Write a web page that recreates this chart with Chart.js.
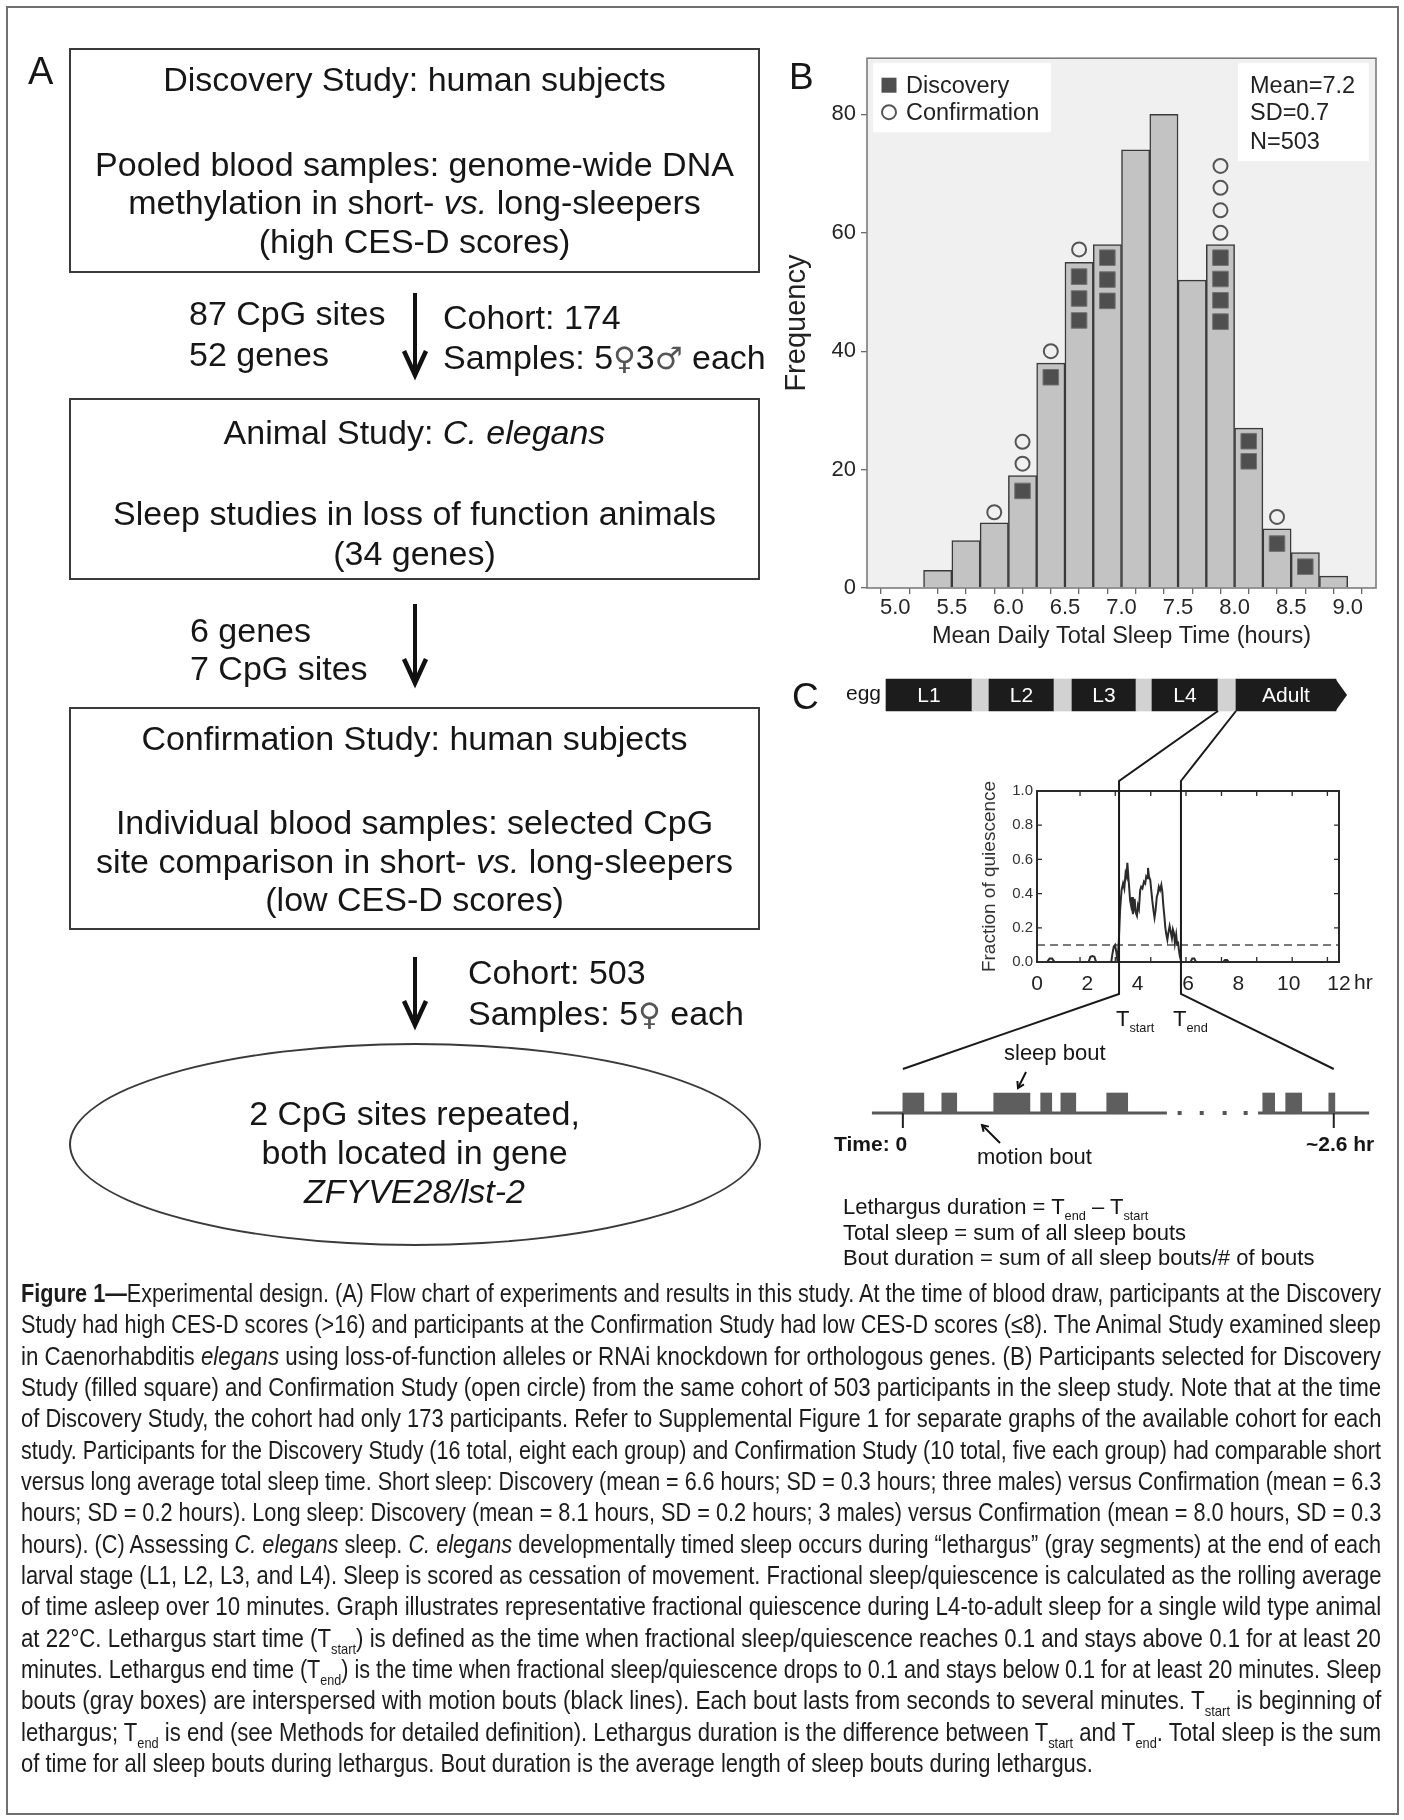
<!DOCTYPE html>
<html>
<head>
<meta charset="utf-8">
<script src="https://cdn.jsdelivr.net/npm/chart.js@4.4.1/dist/chart.umd.min.js"></script>
<style>
  html, body { margin:0; padding:0; background:#ffffff; }
  #page { position:relative; width:1404px; height:1820px; overflow:hidden; background:#fff;
          font-family:"Liberation Sans", Arial, Helvetica, sans-serif; color:#161616; }
  #frame { position:absolute; left:6px; top:6px; width:1393px; height:1809px; border:2px solid #707070; box-sizing:border-box; }
  .box { position:absolute; border:2px solid #3a3a3a; box-sizing:border-box; }
  .ell { position:absolute; border:2px solid #3a3a3a; box-sizing:border-box; border-radius:50%; }
  .t { position:absolute; white-space:nowrap; height:40px; line-height:40px; z-index:4; }
  .c { text-align:center; left:69px; width:691px; }
  .f34 { font-size:34px; }
  .sym { font-family:"DejaVu Sans", "Noto Sans", sans-serif; font-size:31px; font-weight:normal; color:#555; }
  canvas { position:absolute; z-index:2; }
  .cap { position:absolute; left:21px; white-space:nowrap; height:32px; line-height:32px; font-size:25px; transform-origin:0 50%; color:#1c1c1c; z-index:4; }
  sub { font-size:0.58em; vertical-align:-0.45em; line-height:0; }
  #ov { position:absolute; left:0; top:0; z-index:3; }
</style>
</head>
<body>
<div id="page">
  <div id="frame"></div>

  <!-- Panel A -->
  <div class="t" style="left:28px;top:51px;font-size:38px;">A</div>
  <div class="box" style="left:69px;top:48px;width:691px;height:225px;"></div>
  <div class="t c f34" style="top:59px;">Discovery Study: human subjects</div>
  <div class="t c f34" style="top:144px;">Pooled blood samples: genome-wide DNA</div>
  <div class="t c f34" style="top:182px;">methylation in short- <i>vs.</i> long-sleepers</div>
  <div class="t c f34" style="top:221px;">(high CES-D scores)</div>

  <div class="t f34" style="left:189px;top:293px;">87 CpG sites</div>
  <div class="t f34" style="left:189px;top:334px;">52 genes</div>
  <div class="t f34" style="left:443px;top:297px;">Cohort: 174</div>
  <div class="t f34" style="left:443px;top:337px;">Samples: 5<span class="sym">♀</span>3<span class="sym">♂</span> each</div>

  <div class="box" style="left:69px;top:398px;width:691px;height:182px;"></div>
  <div class="t c f34" style="top:412px;">Animal Study: <i>C. elegans</i></div>
  <div class="t c f34" style="top:493px;">Sleep studies in loss of function animals</div>
  <div class="t c f34" style="top:533px;">(34 genes)</div>

  <div class="t f34" style="left:190px;top:610px;">6 genes</div>
  <div class="t f34" style="left:190px;top:648px;">7 CpG sites</div>

  <div class="box" style="left:69px;top:707px;width:691px;height:223px;"></div>
  <div class="t c f34" style="top:718px;">Confirmation Study: human subjects</div>
  <div class="t c f34" style="top:802px;">Individual blood samples: selected CpG</div>
  <div class="t c f34" style="top:841px;">site comparison in short- <i>vs.</i> long-sleepers</div>
  <div class="t c f34" style="top:879px;">(low CES-D scores)</div>

  <div class="t f34" style="left:468px;top:952px;">Cohort: 503</div>
  <div class="t f34" style="left:468px;top:993px;">Samples: 5<span class="sym">♀</span> each</div>

  <div class="ell" style="left:69px;top:1043px;width:692px;height:203px;"></div>
  <div class="t c f34" style="top:1093px;">2 CpG sites repeated,</div>
  <div class="t c f34" style="top:1132px;">both located in gene</div>
  <div class="t c f34" style="top:1171px;"><i>ZFYVE28/lst-2</i></div>

  <!-- Panel B -->
  <div class="t" style="left:789px;top:57px;font-size:37px;">B</div>
  <canvas id="cB" width="625" height="620" style="left:770px;top:40px;"></canvas>

  <!-- Panel C -->
  <div class="t" style="left:792px;top:677px;font-size:37px;">C</div>
  <div class="t" style="left:846px;top:673px;font-size:21px;">egg</div>
  <canvas id="cT" width="470" height="50" style="left:880px;top:670px;"></canvas>
  <canvas id="cQ" width="430" height="250" style="left:960px;top:760px;"></canvas>
  <canvas id="cS" width="569" height="80" style="left:820px;top:1063px;"></canvas>

  <div class="t" style="left:1116px;top:999px;font-size:22px;">T<sub>start</sub></div>
  <div class="t" style="left:1173px;top:999px;font-size:22px;">T<sub>end</sub></div>
  <div class="t" style="left:1004px;top:1033px;font-size:22px;">sleep bout</div>
  <div class="t" style="left:977px;top:1137px;font-size:22px;">motion bout</div>
  <div class="t" style="left:834px;top:1124px;font-size:21px;font-weight:bold;">Time: 0</div>
  <div class="t" style="left:1306px;top:1124px;font-size:21px;font-weight:bold;">~2.6 hr</div>
  <div class="t" style="left:843px;top:1187px;font-size:22px;">Lethargus duration = T<sub>end</sub> – T<sub>start</sub></div>
  <div class="t" style="left:843px;top:1213px;font-size:22px;">Total sleep = sum of all sleep bouts</div>
  <div class="t" style="left:843px;top:1238px;font-size:22px;">Bout duration = sum of all sleep bouts/# of bouts</div>

  <!-- Caption -->
  <div class="cap" style="top:1277px;"><b>Figure 1—</b>Experimental design. (A) Flow chart of experiments and results in this study. At the time of blood draw, participants at the Discovery</div>
  <div class="cap" style="top:1308px;">Study had high CES-D scores (&gt;16) and participants at the Confirmation Study had low CES-D scores (≤8). The Animal Study examined sleep</div>
  <div class="cap" style="top:1340px;">in Caenorhabditis <i>elegans</i> using loss-of-function alleles or RNAi knockdown for orthologous genes. (B) Participants selected for Discovery</div>
  <div class="cap" style="top:1371px;">Study (filled square) and Confirmation Study (open circle) from the same cohort of 503 participants in the sleep study. Note that at the time</div>
  <div class="cap" style="top:1402px;">of Discovery Study, the cohort had only 173 participants. Refer to Supplemental Figure 1 for separate graphs of the available cohort for each</div>
  <div class="cap" style="top:1434px;">study. Participants for the Discovery Study (16 total, eight each group) and Confirmation Study (10 total, five each group) had comparable short</div>
  <div class="cap" style="top:1465px;">versus long average total sleep time. Short sleep: Discovery (mean = 6.6 hours; SD = 0.3 hours; three males) versus Confirmation (mean = 6.3</div>
  <div class="cap" style="top:1496px;">hours; SD = 0.2 hours). Long sleep: Discovery (mean = 8.1 hours, SD = 0.2 hours; 3 males) versus Confirmation (mean = 8.0 hours, SD = 0.3</div>
  <div class="cap" style="top:1528px;">hours). (C) Assessing <i>C. elegans</i> sleep. <i>C. elegans</i> developmentally timed sleep occurs during “lethargus” (gray segments) at the end of each</div>
  <div class="cap" style="top:1559px;">larval stage (L1, L2, L3, and L4). Sleep is scored as cessation of movement. Fractional sleep/quiescence is calculated as the rolling average</div>
  <div class="cap" style="top:1590px;">of time asleep over 10 minutes. Graph illustrates representative fractional quiescence during L4-to-adult sleep for a single wild type animal</div>
  <div class="cap" style="top:1622px;">at 22°C. Lethargus start time (T<sub>start</sub>) is defined as the time when fractional sleep/quiescence reaches 0.1 and stays above 0.1 for at least 20</div>
  <div class="cap" style="top:1653px;">minutes. Lethargus end time (T<sub>end</sub>) is the time when fractional sleep/quiescence drops to 0.1 and stays below 0.1 for at least 20 minutes. Sleep</div>
  <div class="cap" style="top:1684px;">bouts (gray boxes) are interspersed with motion bouts (black lines). Each bout lasts from seconds to several minutes. T<sub>start</sub> is beginning of</div>
  <div class="cap" style="top:1716px;">lethargus; T<sub>end</sub> is end (see Methods for detailed definition). Lethargus duration is the difference between T<sub>start</sub> and T<sub>end</sub>. Total sleep is the sum</div>
  <div class="cap" style="top:1747px;" data-last="1">of time for all sleep bouts during lethargus. Bout duration is the average length of sleep bouts during lethargus.</div>

  <svg id="ov" width="1404" height="1820" xmlns="http://www.w3.org/2000/svg"></svg>
</div>

<script>
// ---------------- DATA ----------------
// Panel B: histogram of mean daily total sleep time (bins 0.25 h wide)
const binCenters   = [5.375, 5.625, 5.875, 6.125, 6.375, 6.625, 6.875, 7.125, 7.375, 7.625, 7.875, 8.125, 8.375, 8.625, 8.875];
const frequencies  = [3, 8, 11, 19, 38, 55, 58, 74, 80, 52, 58, 27, 10, 6, 2];
const discoveryX   = [6.125, 6.375, 6.625, 6.625, 6.625, 6.875, 6.875, 6.875, 7.875, 7.875, 7.875, 7.875, 8.125, 8.125, 8.375, 8.625];
const discoveryY   = [16.4, 35.6, 52.6, 48.9, 45.2, 55.8, 52.1, 48.5, 55.8, 52.2, 48.6, 45.0, 24.8, 21.4, 7.5, 3.6];
const confirmationX = [5.875, 6.125, 6.125, 6.375, 6.625, 7.875, 7.875, 7.875, 7.875, 8.375];
const confirmationY = [12.8, 24.7, 21.0, 40.0, 57.2, 71.3, 67.6, 63.8, 60.0, 12.0];
const legendLabels = ['Discovery', 'Confirmation'];
const statsLines   = ['Mean=7.2', 'SD=0.7', 'N=503'];
const xTitleB = 'Mean Daily Total Sleep Time (hours)';
const yTitleB = 'Frequency';

// Panel C: developmental timeline (schematic units)
const stageNames   = ['L1', '', 'L2', '', 'L3', '', 'L4', '', 'Adult'];
const stageStarts  = [0, 86, 103, 168, 186, 250, 266, 332, 350];
const stageEnds    = [86, 103, 168, 186, 250, 266, 332, 350, 450];
const stageIsLethargus = [false, true, false, true, false, true, false, true, false];
const arrowTip = 461;
const zoomedStageIndex = 7;

// Panel C: fraction of quiescence vs time (hours)
const quiesHours  = [0, 0.4, 0.5, 0.6, 0.7, 2.05, 2.12, 2.2, 2.28, 2.35, 2.95, 3.0, 3.05, 3.1, 3.15, 3.2,
  3.25, 3.3, 3.36, 3.42, 3.47, 3.52, 3.56, 3.59, 3.62, 3.66, 3.7, 3.74, 3.78, 3.81, 3.85, 3.88, 3.92, 3.97,
  4.01, 4.05, 4.1, 4.14, 4.19, 4.25, 4.3, 4.34, 4.38, 4.41, 4.45, 4.5, 4.54, 4.58, 4.63, 4.67, 4.71, 4.76,
  4.8, 4.84, 4.89, 4.94, 4.98, 5.02, 5.06, 5.1, 5.14, 5.18, 5.22, 5.27, 5.31, 5.36, 5.4, 5.44, 5.48, 5.53,
  5.57, 5.6, 5.64, 5.68, 5.74, 6.1, 6.17, 6.25, 6.32, 7.4, 7.47, 7.55, 7.62, 12];
const quiesValues = [0, 0, 0.02, 0.02, 0, 0, 0.03, 0.035, 0.03, 0, 0, 0.05, 0.09, 0.1, 0.06, 0.0,
  0.12, 0.3, 0.42, 0.46, 0.43, 0.52, 0.5, 0.58, 0.52, 0.44, 0.36, 0.33, 0.38, 0.28, 0.32, 0.37, 0.29, 0.27,
  0.33, 0.31, 0.42, 0.44, 0.43, 0.47, 0.46, 0.5, 0.49, 0.55, 0.5, 0.48, 0.42, 0.36, 0.3, 0.26, 0.3, 0.38,
  0.4, 0.44, 0.42, 0.45, 0.41, 0.33, 0.27, 0.2, 0.16, 0.13, 0.17, 0.21, 0.18, 0.14, 0.19, 0.17, 0.11, 0.16,
  0.1, 0.12, 0.07, 0.03, 0, 0, 0.02, 0.02, 0, 0, 0.012, 0.012, 0, 0];
const threshold = 0.1;
const tStartHr = 3.26;
const tEndHr = 5.72;
const quiesFrameTickHours = [1.71, 3.11, 4.52, 5.92, 7.33, 8.73, 10.14, 11.54];
const quiesYTicks = [0.2, 0.4, 0.6, 0.8];

// Panel C: sleep bouts during lethargus (minutes from T_start)
const boutStartMin = [0, 14.1, 32.9, 49.9, 57.2, 73.8, 130.3, 138.6, 154.2];
const boutEndMin   = [7.6, 19.5, 46.0, 53.9, 62.6, 81.4, 134.6, 144.4, 156.4];
const motionSegStart = [-11.2, 128.6];
const motionSegEnd   = [95.6, 168.8];
const gapDotsMin   = [100.2, 108.2, 116.5, 124.1];
const boutTickMin  = [0, 156];

// ---------------- CHARTS ----------------
const FONT = '"Liberation Sans", Arial, Helvetica, sans-serif';
Chart.defaults.font.family = FONT;
Chart.defaults.color = '#222';
Chart.defaults.animation = false;
Chart.defaults.responsive = false;
Chart.defaults.maintainAspectRatio = false;
Chart.defaults.events = [];
Chart.defaults.plugins.legend.display = false;
Chart.defaults.plugins.tooltip.enabled = false;

const bPlugin = {
  id: 'bPlugin',
  beforeDraw(c) {
    const {ctx, chartArea: a} = c;
    ctx.save();
    ctx.fillStyle = '#f0f0f0';
    ctx.fillRect(a.left, a.top, a.right - a.left, a.bottom - a.top);
    ctx.restore();
  },
  afterDraw(c) {
    const {ctx, chartArea: a} = c;
    const dsD = c.data.datasets[0], dsC = c.data.datasets[1];
    ctx.save();
    ctx.strokeStyle = '#7c7c7c';
    ctx.lineWidth = 1.6;
    ctx.strokeRect(a.left, a.top, a.right - a.left, a.bottom - a.top);
    // legend
    ctx.fillStyle = '#ffffff';
    ctx.fillRect(a.left + 6, a.top + 5, 178, 69);
    ctx.fillStyle = dsD.backgroundColor;
    ctx.fillRect(a.left + 22 - 7.5, a.top + 27 - 7.5, 15, 15);
    ctx.beginPath();
    ctx.arc(a.left + 22, a.top + 54, 7, 0, Math.PI * 2);
    ctx.strokeStyle = dsC.borderColor; ctx.lineWidth = 2; ctx.stroke();
    ctx.font = '23.5px ' + FONT;
    ctx.fillStyle = '#222';
    ctx.textAlign = 'left'; ctx.textBaseline = 'middle';
    ctx.fillText(legendLabels[0], a.left + 39, a.top + 28);
    ctx.fillText(legendLabels[1], a.left + 39, a.top + 55);
    // stats box
    ctx.fillStyle = '#ffffff';
    ctx.fillRect(a.right - 138, a.top + 5, 131, 98);
    ctx.fillStyle = '#222';
    const off = [28, 55, 84];
    statsLines.forEach((s, i) => ctx.fillText(s, a.right - 126, a.top + off[i]));
    ctx.restore();
  }
};

const chartB = new Chart(document.getElementById('cB'), {
  type: 'bar',
  data: { datasets: [
    { type: 'scatter', label: legendLabels[0], data: discoveryX.map((x, i) => ({x: x, y: discoveryY[i]})),
      pointStyle: 'rect', pointRadius: 11, backgroundColor: '#4f4f4f', borderColor: '#727272', borderWidth: 1, order: 0 },
    { type: 'scatter', label: legendLabels[1], data: confirmationX.map((x, i) => ({x: x, y: confirmationY[i]})),
      pointStyle: 'circle', pointRadius: 7, backgroundColor: 'rgba(0,0,0,0)', borderColor: '#555555', borderWidth: 2, order: 0 },
    { type: 'bar', label: 'Frequency', data: binCenters.map((x, i) => ({x: x, y: frequencies[i]})),
      backgroundColor: '#c3c3c3', borderColor: '#3a3a3a', borderWidth: 1.5, barPercentage: 1, categoryPercentage: 1, order: 1 }
  ]},
  options: {
    layout: { padding: { top: 18, right: 19, left: 0, bottom: 0 } },
    scales: {
      x: { type: 'linear', position: 'bottom', min: 4.75, max: 9.25, offset: false,
           ticks: { stepSize: 0.25, autoSkip: false, maxRotation: 0, minRotation: 0, padding: 1, color: '#262626', font: { size: 22 },
                    callback: (v) => (Math.abs(v * 2 - Math.round(v * 2)) < 1e-6 ? Number(v).toFixed(1) : '') },
           grid: { drawOnChartArea: false, drawTicks: true, tickLength: 6, color: '#6a6a6a', lineWidth: 1.3 },
           border: { display: false },
           title: { display: true, text: xTitleB, color: '#222', font: { size: 23.5 }, padding: { top: 0, bottom: 9 } },
           afterFit: (s) => { s.height = 72; } },
      y: { type: 'linear', min: 0, max: 89.5,
           ticks: { stepSize: 20, includeBounds: false, padding: 5, color: '#262626', font: { size: 22 } },
           grid: { drawOnChartArea: false, drawTicks: true, tickLength: 6, color: '#6a6a6a', lineWidth: 1.3 },
           border: { display: false },
           title: { display: true, text: yTitleB, color: '#222', font: { size: 29 }, padding: { top: 9.6, bottom: 0 } },
           afterFit: (s) => { s.width = 97; } }
    }
  },
  plugins: [bPlugin]
});

const tPlugin = {
  id: 'tPlugin',
  afterDatasetsDraw(c) {
    const {ctx} = c;
    const meta = c.getDatasetMeta(0);
    const xs = c.scales.x;
    ctx.save();
    const last = meta.data[meta.data.length - 1];
    const half = last.height / 2;
    const xEnd = xs.getPixelForValue(stageEnds[stageEnds.length - 1]);
    const xTip = xs.getPixelForValue(arrowTip);
    ctx.fillStyle = '#1c1c1c';
    ctx.beginPath();
    ctx.moveTo(xEnd - 0.5, last.y - half);
    ctx.lineTo(xTip, last.y);
    ctx.lineTo(xEnd - 0.5, last.y + half);
    ctx.closePath(); ctx.fill();
    ctx.fillStyle = '#ffffff';
    ctx.font = '21px ' + FONT;
    ctx.textAlign = 'center'; ctx.textBaseline = 'middle';
    meta.data.forEach((el, i) => {
      if (stageNames[i]) ctx.fillText(stageNames[i], (el.x + el.base) / 2, el.y + 1);
    });
    ctx.restore();
  }
};

const chartT = new Chart(document.getElementById('cT'), {
  type: 'bar',
  data: { labels: ['stages'], datasets: [{
    data: stageStarts.map((s, i) => ({x: [s, stageEnds[i]], y: 'stages'})),
    backgroundColor: stageIsLethargus.map(l => l ? '#d2d2d2' : '#1c1c1c'),
    borderWidth: 0, barThickness: 32 }] },
  options: { indexAxis: 'y', layout: { padding: 0 },
    scales: { x: { type: 'linear', min: -6, max: 464, display: false }, y: { type: 'category', display: false } } },
  plugins: [tPlugin]
});

const qPlugin = {
  id: 'qPlugin',
  afterDraw(c) {
    const {ctx, chartArea: a} = c;
    const xs = c.scales.x, ys = c.scales.y;
    ctx.save();
    ctx.strokeStyle = '#2a2a2a';
    ctx.lineWidth = 2;
    ctx.strokeRect(a.left, a.top, a.right - a.left, a.bottom - a.top);
    ctx.lineWidth = 1.3;
    ctx.beginPath();
    quiesFrameTickHours.forEach(h => {
      const px = xs.getPixelForValue(h);
      ctx.moveTo(px, a.top); ctx.lineTo(px, a.top + 5);
      ctx.moveTo(px, a.bottom); ctx.lineTo(px, a.bottom - 5);
    });
    quiesYTicks.forEach(v => {
      const py = ys.getPixelForValue(v);
      ctx.moveTo(a.left, py); ctx.lineTo(a.left + 5, py);
      ctx.moveTo(a.right, py); ctx.lineTo(a.right - 5, py);
    });
    ctx.stroke();
    ctx.fillStyle = '#222';
    ctx.font = '21px ' + FONT;
    ctx.textAlign = 'left'; ctx.textBaseline = 'middle';
    ctx.fillText('hr', xs.getPixelForValue(12) + 15, a.bottom + 21);
    ctx.restore();
  }
};

const chartQ = new Chart(document.getElementById('cQ'), {
  type: 'line',
  data: { datasets: [
    { data: quiesHours.map((x, i) => ({x: x, y: quiesValues[i]})), borderColor: '#2b2b2b', borderWidth: 2,
      pointRadius: 0, tension: 0, fill: false, order: 0, clip: 3 },
    { data: [{x: 0, y: threshold}, {x: 12, y: threshold}], borderColor: '#7a7a7a', borderWidth: 2,
      borderDash: [8, 5], pointRadius: 0, fill: false, order: 1 }
  ]},
  options: {
    layout: { padding: { top: 31, right: 51, left: 0, bottom: 0 } },
    scales: {
      x: { type: 'linear', min: 0, max: 12, ticks: { stepSize: 2, padding: 10, color: '#222', font: { size: 21 }, maxRotation: 0, autoSkip: false },
           grid: { display: false, drawTicks: false }, border: { display: false }, afterFit: (s) => { s.height = 48; } },
      y: { type: 'linear', min: 0, max: 1, ticks: { stepSize: 0.2, padding: 4, color: '#333', font: { size: 15 }, callback: (v) => Number(v).toFixed(1) },
           grid: { display: false, drawTicks: false }, border: { display: false },
           title: { display: true, text: 'Fraction of quiescence', color: '#333', font: { size: 19 }, padding: { top: 18.6, bottom: 0 } },
           afterFit: (s) => { s.width = 77; } }
    }
  },
  plugins: [qPlugin]
});

const sPlugin = {
  id: 'sPlugin',
  beforeDatasetsDraw(c) {
    const {ctx} = c;
    const xs = c.scales.x;
    const el = c.getDatasetMeta(0).data[0];
    const baseY = el.y + el.height / 2;
    ctx.save();
    ctx.strokeStyle = '#585858';
    ctx.lineWidth = 3;
    ctx.beginPath();
    motionSegStart.forEach((s, i) => {
      ctx.moveTo(xs.getPixelForValue(s), baseY);
      ctx.lineTo(xs.getPixelForValue(motionSegEnd[i]), baseY);
    });
    ctx.stroke();
    ctx.fillStyle = '#555';
    gapDotsMin.forEach(m => { const px = xs.getPixelForValue(m); ctx.fillRect(px - 2, baseY - 2, 4, 4); });
    ctx.strokeStyle = '#222';
    ctx.lineWidth = 2;
    ctx.beginPath();
    boutTickMin.forEach(m => { const px = xs.getPixelForValue(m); ctx.moveTo(px, baseY); ctx.lineTo(px, baseY + 15); });
    ctx.stroke();
    ctx.restore();
  }
};

const chartS = new Chart(document.getElementById('cS'), {
  type: 'bar',
  data: { labels: ['bouts'], datasets: [{
    data: boutStartMin.map((s, i) => ({x: [s, boutEndMin[i]], y: 'bouts'})),
    backgroundColor: '#5e5e5e', borderWidth: 0, barThickness: 20 }] },
  options: { indexAxis: 'y', layout: { padding: 0 },
    scales: { x: { type: 'linear', min: -30, max: 176, display: false }, y: { type: 'category', display: false } } },
  plugins: [sPlugin]
});

// ---------------- OVERLAY (arrows, connector lines) ----------------
const NS = 'http://www.w3.org/2000/svg';
const ov = document.getElementById('ov');
function add(tag, attrs) {
  const e = document.createElementNS(NS, tag);
  for (const k in attrs) e.setAttribute(k, attrs[k]);
  ov.appendChild(e); return e;
}
function flowArrow(x, y0, y1) {
  add('line', {x1: x, y1: y0, x2: x, y2: y1 - 3, stroke: '#111', 'stroke-width': 4});
  add('polyline', {points: `${x - 11},${y1 - 24} ${x},${y1} ${x + 11},${y1 - 24}`, fill: 'none', stroke: '#111',
    'stroke-width': 4.5, 'stroke-linejoin': 'miter', 'stroke-miterlimit': 10});
}
flowArrow(415, 293, 375);
flowArrow(415, 604, 683);
flowArrow(415, 957, 1025);

const cT = {left: 880, top: 670}, cQ = {left: 960, top: 760}, cS = {left: 820, top: 1063};
const lethEl = chartT.getDatasetMeta(0).data[zoomedStageIndex];
const barBottom = cT.top + lethEl.y + lethEl.height / 2;
const lx0 = cT.left + chartT.scales.x.getPixelForValue(stageStarts[zoomedStageIndex]);
const lx1 = cT.left + chartT.scales.x.getPixelForValue(stageEnds[zoomedStageIndex]);
const qa = chartQ.chartArea;
const qs = cQ.left + chartQ.scales.x.getPixelForValue(tStartHr);
const qe = cQ.left + chartQ.scales.x.getPixelForValue(tEndHr);
const topY = cQ.top + qa.top - 10;
const botY = cQ.top + qa.bottom + 32;
const b0 = cS.left + chartS.scales.x.getPixelForValue(boutTickMin[0]);
const b1 = cS.left + chartS.scales.x.getPixelForValue(boutTickMin[1]);
const bY = 1069;
add('polyline', {points: `${lx0},${barBottom} ${qs},${topY} ${qs},${botY} ${b0},${bY}`, fill: 'none', stroke: '#1a1a1a', 'stroke-width': 2});
add('polyline', {points: `${lx1},${barBottom} ${qe},${topY} ${qe},${botY} ${b1},${bY}`, fill: 'none', stroke: '#1a1a1a', 'stroke-width': 2});

function smallArrow(x0, y0, x1, y1) {
  add('line', {x1: x0, y1: y0, x2: x1, y2: y1, stroke: '#111', 'stroke-width': 2});
  const ang = Math.atan2(y1 - y0, x1 - x0), L = 7, W = 0.55;
  const p1 = [x1 - L * Math.cos(ang - W), y1 - L * Math.sin(ang - W)];
  const p2 = [x1 - L * Math.cos(ang + W), y1 - L * Math.sin(ang + W)];
  add('polyline', {points: `${p1[0]},${p1[1]} ${x1},${y1} ${p2[0]},${p2[1]}`, fill: 'none', stroke: '#111', 'stroke-width': 2});
}
smallArrow(1026, 1072, 1018, 1088);
smallArrow(1000, 1143, 982, 1125);

// ---------------- Caption: fit each line to the column width ----------------
(function () {
  const lines = Array.from(document.querySelectorAll('.cap'));
  const target = 1360;
  const ratios = [];
  lines.forEach(el => {
    if (el.dataset.last) return;
    const r = target / el.offsetWidth;
    ratios.push(r);
    el.style.transform = `scaleX(${r})`;
  });
  ratios.sort((a, b) => a - b);
  const med = ratios[Math.floor(ratios.length / 2)];
  lines.forEach(el => { if (el.dataset.last) el.style.transform = `scaleX(${med})`; });
})();
</script>
</body>
</html>
